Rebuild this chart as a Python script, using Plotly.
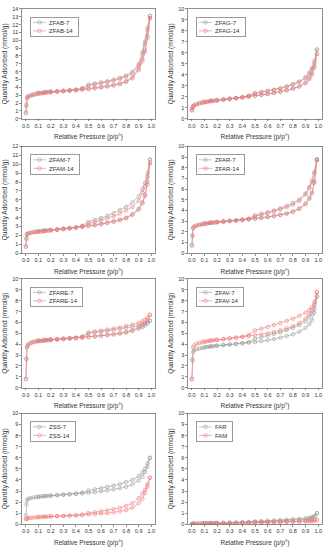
import plotly.graph_objects as go

P_ADS = [0.001, 0.005, 0.01, 0.02, 0.04, 0.06, 0.08, 0.1, 0.12, 0.14, 0.16, 0.18, 0.2, 0.25, 0.3, 0.35,
         0.4, 0.45, 0.5, 0.55, 0.6, 0.65, 0.7, 0.75, 0.8, 0.85, 0.9, 0.93, 0.95, 0.97, 0.99]
P_DES = [0.99, 0.97, 0.95, 0.93, 0.9, 0.85, 0.8, 0.75, 0.7, 0.65, 0.6, 0.55, 0.5, 0.45, 0.4, 0.35,
         0.3, 0.25, 0.2, 0.15, 0.1]

ZFAB7_ADS = [0.8, 1.8, 2.7, 2.9, 3.0, 3.1, 3.2, 3.25, 3.3, 3.35, 3.4, 3.42, 3.45, 3.5, 3.55, 3.62, 3.7, 3.78, 3.85, 3.95, 4.05, 4.18, 4.32, 4.5, 4.8, 5.3, 6.4, 7.6, 8.8, 10.6, 13.1]
ZFAB7_DES = [13.1, 11.6, 9.8, 8.5, 7.0, 6.0, 5.5, 5.2, 5.0, 4.8, 4.65, 4.5, 4.35, 3.9, 3.72, 3.64, 3.57, 3.52, 3.47, 3.4, 3.3]
ZFAB14_ADS = [0.7, 1.6, 2.6, 2.8, 2.92, 3.02, 3.1, 3.17, 3.22, 3.27, 3.31, 3.35, 3.38, 3.44, 3.5, 3.56, 3.63, 3.7, 3.78, 3.87, 3.97, 4.09, 4.23, 4.4, 4.68, 5.15, 6.2, 7.3, 8.5, 10.3, 12.8]
ZFAB14_DES = [12.8, 11.3, 9.5, 8.2, 6.8, 5.8, 5.35, 5.05, 4.85, 4.65, 4.5, 4.36, 4.22, 3.82, 3.65, 3.58, 3.52, 3.46, 3.4, 3.33, 3.23]

ZFAG7_ADS = [0.8, 1.0, 1.15, 1.25, 1.35, 1.42, 1.48, 1.52, 1.56, 1.6, 1.63, 1.66, 1.69, 1.75, 1.82, 1.88, 1.95, 2.02, 2.1, 2.18, 2.27, 2.37, 2.48, 2.6, 2.75, 2.95, 3.3, 3.7, 4.1, 4.8, 6.3]
ZFAG7_DES = [6.3, 5.3, 4.6, 4.2, 3.8, 3.4, 3.15, 2.95, 2.8, 2.65, 2.55, 2.45, 2.35, 2.1, 1.97, 1.9, 1.84, 1.77, 1.71, 1.65, 1.55]
ZFAG14_ADS = [0.75, 0.95, 1.1, 1.2, 1.3, 1.38, 1.44, 1.49, 1.53, 1.57, 1.6, 1.63, 1.66, 1.72, 1.79, 1.85, 1.92, 1.99, 2.07, 2.15, 2.24, 2.34, 2.45, 2.57, 2.72, 2.92, 3.25, 3.6, 4.0, 4.6, 5.9]
ZFAG14_DES = [5.9, 5.1, 4.5, 4.1, 3.7, 3.32, 3.08, 2.9, 2.75, 2.6, 2.5, 2.4, 2.3, 2.06, 1.94, 1.87, 1.81, 1.74, 1.68, 1.62, 1.52]

ZFAM7_ADS = [0.8, 1.7, 2.15, 2.25, 2.33, 2.38, 2.42, 2.45, 2.48, 2.52, 2.55, 2.58, 2.6, 2.67, 2.74, 2.82, 2.9, 3.0, 3.1, 3.2, 3.32, 3.45, 3.6, 3.78, 4.0, 4.4, 5.0, 5.7, 6.6, 8.0, 10.5]
ZFAM7_DES = [10.5, 9.0, 7.9, 7.2, 6.4, 5.7, 5.2, 4.85, 4.5, 4.2, 3.95, 3.75, 3.55, 3.1, 2.92, 2.84, 2.76, 2.69, 2.62, 2.55, 2.47]
ZFAM14_ADS = [0.7, 1.6, 2.1, 2.2, 2.28, 2.33, 2.37, 2.4, 2.43, 2.47, 2.5, 2.53, 2.56, 2.63, 2.7, 2.78, 2.86, 2.95, 3.05, 3.14, 3.25, 3.38, 3.52, 3.7, 3.92, 4.3, 4.9, 5.6, 6.4, 7.7, 10.1]
ZFAM14_DES = [10.1, 8.6, 7.5, 6.8, 5.9, 5.2, 4.8, 4.45, 4.15, 3.9, 3.7, 3.5, 3.35, 3.02, 2.88, 2.8, 2.72, 2.65, 2.58, 2.51, 2.43]

ZFAR7_ADS = [0.8, 1.7, 2.4, 2.5, 2.6, 2.66, 2.7, 2.75, 2.78, 2.82, 2.85, 2.87, 2.9, 2.95, 3.0, 3.05, 3.1, 3.16, 3.22, 3.3, 3.38, 3.47, 3.57, 3.7, 3.88, 4.15, 4.6, 5.1, 5.6, 6.6, 8.8]
ZFAR7_DES = [8.8, 7.5, 6.6, 6.1, 5.5, 4.9, 4.55, 4.3, 4.1, 3.9, 3.75, 3.6, 3.45, 3.2, 3.12, 3.06, 3.01, 2.96, 2.91, 2.85, 2.76]
ZFAR14_ADS = [0.7, 1.6, 2.35, 2.5, 2.6, 2.67, 2.72, 2.77, 2.8, 2.84, 2.87, 2.9, 2.93, 2.98, 3.03, 3.08, 3.13, 3.19, 3.25, 3.32, 3.4, 3.5, 3.6, 3.72, 3.9, 4.2, 4.65, 5.2, 5.7, 6.7, 8.7]
ZFAR14_DES = [8.7, 7.6, 6.8, 6.2, 5.6, 5.05, 4.7, 4.45, 4.2, 4.0, 3.85, 3.7, 3.55, 3.25, 3.15, 3.09, 3.04, 2.99, 2.94, 2.88, 2.8]

ZFARE7_ADS = [0.8, 2.7, 3.8, 4.0, 4.15, 4.22, 4.27, 4.3, 4.33, 4.35, 4.37, 4.39, 4.41, 4.45, 4.49, 4.53, 4.57, 4.62, 4.67, 4.72, 4.78, 4.84, 4.9, 4.98, 5.08, 5.22, 5.42, 5.58, 5.72, 5.9, 6.15]
ZFARE7_DES = [6.15, 6.0, 5.9, 5.82, 5.72, 5.6, 5.5, 5.4, 5.3, 5.22, 5.15, 5.08, 5.0, 4.68, 4.59, 4.55, 4.51, 4.47, 4.43, 4.39, 4.33]
ZFARE14_ADS = [0.8, 2.6, 3.7, 3.95, 4.1, 4.18, 4.23, 4.27, 4.3, 4.32, 4.34, 4.36, 4.38, 4.43, 4.47, 4.51, 4.56, 4.61, 4.66, 4.71, 4.77, 4.84, 4.91, 5.0, 5.12, 5.3, 5.55, 5.75, 5.95, 6.25, 6.7]
ZFARE14_DES = [6.7, 6.45, 6.25, 6.1, 5.95, 5.8, 5.68, 5.55, 5.45, 5.35, 5.25, 5.17, 5.08, 4.7, 4.6, 4.56, 4.52, 4.48, 4.44, 4.4, 4.34]

ZFAV7_ADS = [0.8, 2.5, 3.3, 3.45, 3.55, 3.6, 3.65, 3.7, 3.74, 3.77, 3.8, 3.83, 3.86, 3.92, 3.98, 4.03, 4.08, 4.14, 4.2, 4.28, 4.37, 4.48, 4.6, 4.75, 4.92, 5.15, 5.5, 5.85, 6.2, 6.9, 8.4]
ZFAV7_DES = [8.4, 7.3, 6.8, 6.5, 6.1, 5.75, 5.5, 5.3, 5.1, 4.95, 4.8, 4.65, 4.5, 4.2, 4.1, 4.03, 3.98, 3.93, 3.88, 3.82, 3.73]
ZFAV14_ADS = [0.8, 2.6, 3.7, 3.9, 4.05, 4.12, 4.18, 4.22, 4.27, 4.31, 4.35, 4.38, 4.41, 4.47, 4.53, 4.6, 4.67, 4.74, 4.82, 4.91, 5.0, 5.12, 5.27, 5.45, 5.65, 5.95, 6.35, 6.75, 7.1, 7.7, 8.8]
ZFAV14_DES = [8.8, 7.9, 7.4, 7.15, 6.9, 6.6, 6.35, 6.15, 5.95, 5.75, 5.58, 5.42, 5.28, 4.85, 4.7, 4.6, 4.53, 4.46, 4.41, 4.35, 4.25]

ZSS7_ADS = [0.8, 1.8, 2.2, 2.3, 2.37, 2.41, 2.44, 2.47, 2.5, 2.52, 2.54, 2.56, 2.58, 2.62, 2.66, 2.7, 2.74, 2.79, 2.84, 2.9, 2.97, 3.05, 3.14, 3.25, 3.38, 3.6, 3.95, 4.3, 4.7, 5.2, 6.0]
ZSS7_DES = [6.0, 5.5, 5.0, 4.7, 4.35, 4.0, 3.8, 3.62, 3.48, 3.36, 3.25, 3.15, 3.05, 2.85, 2.77, 2.71, 2.67, 2.63, 2.59, 2.55, 2.49]
ZSS14_ADS = [0.45, 0.5, 0.52, 0.55, 0.58, 0.6, 0.62, 0.64, 0.65, 0.67, 0.68, 0.7, 0.71, 0.73, 0.75, 0.78, 0.8, 0.83, 0.86, 0.9, 0.95, 1.0, 1.07, 1.15, 1.28, 1.5, 1.9, 2.3, 2.8, 3.4, 4.2]
ZSS14_DES = [4.2, 3.6, 3.1, 2.8, 2.35, 1.9, 1.65, 1.48, 1.36, 1.26, 1.17, 1.09, 1.02, 0.86, 0.81, 0.78, 0.75, 0.73, 0.71, 0.68, 0.65]

FAR_ADS = [0.03, 0.04, 0.05, 0.06, 0.07, 0.08, 0.09, 0.1, 0.1, 0.11, 0.11, 0.12, 0.12, 0.13, 0.14, 0.15, 0.17, 0.18, 0.2, 0.22, 0.24, 0.26, 0.28, 0.31, 0.34, 0.38, 0.43, 0.48, 0.55, 0.68, 1.0]
FAR_DES = [1.0, 0.75, 0.65, 0.6, 0.55, 0.5, 0.45, 0.41, 0.38, 0.35, 0.32, 0.29, 0.26, 0.2, 0.17, 0.15, 0.14, 0.13, 0.12, 0.11, 0.1]
FAM_ADS = [0.01, 0.01, 0.02, 0.02, 0.03, 0.03, 0.04, 0.04, 0.05, 0.05, 0.05, 0.06, 0.06, 0.07, 0.08, 0.09, 0.1, 0.11, 0.12, 0.13, 0.14, 0.16, 0.17, 0.19, 0.2, 0.22, 0.25, 0.27, 0.3, 0.33, 0.38]
FAM_DES = [0.38, 0.35, 0.33, 0.31, 0.29, 0.27, 0.25, 0.23, 0.21, 0.19, 0.17, 0.15, 0.13, 0.1, 0.09, 0.08, 0.07, 0.07, 0.06, 0.05, 0.05]

X_TICKS = [0.0, 0.1, 0.2, 0.3, 0.4, 0.5, 0.6, 0.7, 0.8, 0.9, 1.0]
Y_MAX = [14, 10, 12, 10, 10, 10, 10, 10]

PANELS = [
    ("ZFAB-7", ZFAB7_ADS, ZFAB7_DES, "ZFAB-14", ZFAB14_ADS, ZFAB14_DES),
    ("ZFAG-7", ZFAG7_ADS, ZFAG7_DES, "ZFAG-14", ZFAG14_ADS, ZFAG14_DES),
    ("ZFAM-7", ZFAM7_ADS, ZFAM7_DES, "ZFAM-14", ZFAM14_ADS, ZFAM14_DES),
    ("ZFAR-7", ZFAR7_ADS, ZFAR7_DES, "ZFAR-14", ZFAR14_ADS, ZFAR14_DES),
    ("ZFARE-7", ZFARE7_ADS, ZFARE7_DES, "ZFARE-14", ZFARE14_ADS, ZFARE14_DES),
    ("ZFAV-7", ZFAV7_ADS, ZFAV7_DES, "ZFAV-14", ZFAV14_ADS, ZFAV14_DES),
    ("ZSS-7", ZSS7_ADS, ZSS7_DES, "ZSS-14", ZSS14_ADS, ZSS14_DES),
    ("FAR", FAR_ADS, FAR_DES, "FAM", FAM_ADS, FAM_DES),
]

W, H = 330, 550
COL_X = [(22, 155), (188, 322)]
ROW_Y = [(6, 117), (145, 253), (279, 389), (415, 527)]

GRAY = "#9a9a9a"
RED = "#f07a7a"
FONT = "Liberation Sans"
TXT = "#333333"

fig = go.Figure()
layout = dict(width=W, height=H, margin=dict(l=0, r=0, t=0, b=0),
              paper_bgcolor="white", plot_bgcolor="white", showlegend=True, hovermode=False,
              font=dict(family=FONT, size=5, color=TXT))

for i, (n1, a1, d1, n2, a2, d2) in enumerate(PANELS):
    r, c = divmod(i, 2)
    x0, x1 = COL_X[c]
    y0, y1 = ROW_Y[r]
    k = i + 1
    xa = "x" if k == 1 else f"x{k}"
    ya = "y" if k == 1 else f"y{k}"
    lg = "legend" if k == 1 else f"legend{k}"
    for name, ads, des, col in [(n1, a1, d1, GRAY), (n2, a2, d2, RED)]:
        fig.add_trace(go.Scatter(
            x=P_ADS + P_DES, y=ads + des, name=name, mode="lines+markers",
            line=dict(color=col, width=0.6),
            marker=dict(symbol="circle-open", size=3.5, color=col, line=dict(width=0.6, color=col)),
            xaxis=xa, yaxis=ya, legend=lg))
    axkey = "xaxis" if k == 1 else f"xaxis{k}"
    aykey = "yaxis" if k == 1 else f"yaxis{k}"
    layout[axkey] = dict(
        domain=[x0 / W, x1 / W], anchor=ya, range=[-0.03, 1.03],
        tickvals=X_TICKS, ticktext=[f"{v:.1f}" for v in X_TICKS],
        ticks="outside", ticklen=2, tickwidth=0.6, tickcolor="#444",
        showline=True, linecolor="#444", linewidth=0.6, mirror=True,
        showgrid=False, zeroline=False, tickfont=dict(size=5.5, family=FONT, color=TXT),
        title=dict(text="Relative Pressure (p/p°)", font=dict(size=6.5, family=FONT, color=TXT), standoff=6))
    layout[aykey] = dict(
        domain=[1 - y1 / H, 1 - y0 / H], anchor=xa, range=[0, Y_MAX[i]], dtick=1,
        ticks="outside", ticklen=2, tickwidth=0.6, tickcolor="#444",
        showline=True, linecolor="#444", linewidth=0.6, mirror=True,
        showgrid=False, zeroline=False, tickfont=dict(size=5.5, family=FONT, color=TXT),
        title=dict(text="Quantity Adsorbed (mmol/g)", font=dict(size=6.5, family=FONT, color=TXT), standoff=3))
    layout[lg] = dict(
        x=(x0 + 8) / W, y=1 - (y0 + 8) / H,
        xanchor="left", yanchor="top", bgcolor="rgba(255,255,255,0)",
        bordercolor="#555", borderwidth=0.6, font=dict(size=6, family=FONT, color=TXT),
        itemwidth=30, tracegroupgap=0)

fig.update_layout(**layout)

POST = """
document.body.style.margin = '0';
var gd = document.getElementById('{plot_id}');
function compactLegends() {
  try {
    var groups = gd.querySelectorAll('g.infolayer > g');
    groups.forEach(function (lg) {
      var cls = lg.getAttribute('class') || '';
      if (!/^legend\\d*$/.test(cls)) { return; }
      var tr = lg.querySelectorAll('g.traces');
      var maxw = 0;
      tr.forEach(function (t, j) {
        t.setAttribute('transform', 'translate(0,' + (5.5 + 8.5 * j) + ')');
        t.querySelectorAll('path.js-line').forEach(function (p) { p.setAttribute('d', 'M3,0h13'); });
        t.querySelectorAll('path.scatterpts').forEach(function (p) { p.setAttribute('transform', 'translate(9.5,0)'); });
        var tx = t.querySelector('text[class$="text"]');
        if (tx) { tx.setAttribute('x', 19); maxw = Math.max(maxw, tx.getBBox().width); }
        var tg = t.querySelector('rect[class$="toggle"]');
        if (tg) { tg.setAttribute('height', 8); tg.setAttribute('y', -4); tg.setAttribute('width', 20 + maxw); }
      });
      var bg = lg.querySelector('rect.bg');
      if (bg) { bg.setAttribute('height', 8.5 * tr.length + 2.5); bg.setAttribute('width', 19 + maxw + 5); }
    });
  } catch (e) {}
}
compactLegends();
setTimeout(compactLegends, 0);
setTimeout(compactLegends, 100);
if (gd && gd.on) { gd.on('plotly_afterplot', function () { setTimeout(compactLegends, 0); }); }
"""

fig.write_html("out.html", post_script=POST, config={"displayModeBar": False, "staticPlot": True})
